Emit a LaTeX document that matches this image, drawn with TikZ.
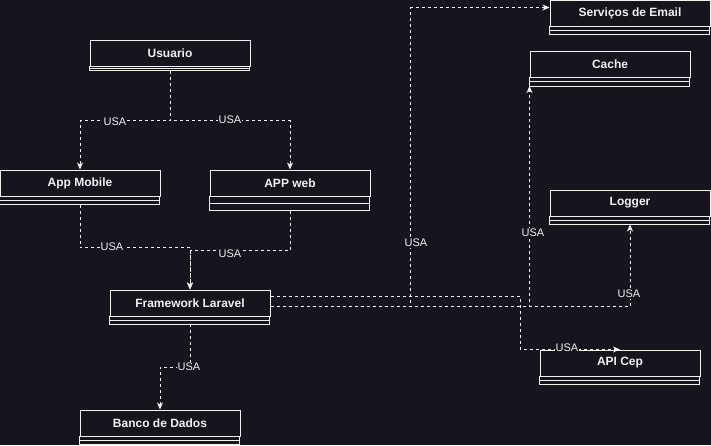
\documentclass[tikz,border=0pt]{standalone}
\usepackage{fontspec}
\setmainfont{Liberation Sans}
\usetikzlibrary{arrows.meta,calc}
\definecolor{bgc}{RGB}{24,20,29}
\definecolor{fgc}{RGB}{240,240,240}
\tikzset{
  clshead/.style={draw=fgc, line width=1pt, minimum width=160pt, minimum height=26pt,
    inner sep=0pt, text=fgc, font=\bfseries\fontsize{12}{14}\selectfont},
  clsline/.style={draw=fgc, line width=1pt},
  edge/.style={draw=fgc, line width=1pt, dash pattern=on 3pt off 3pt,
    -{Stealth[length=7pt,width=6pt,inset=2pt]}},
  lbl/.style={fill=bgc, text=fgc, inner sep=1pt, font=\fontsize{11}{13}\selectfont}
}
\newcommand{\umlcls}[6]{%
  \node[clshead] (#1) at (#2,#3+13) {#6};
  \draw[clsline] (#1.south west) rectangle ++(160,#4);
  \draw[clsline] ($(#1.south west)+(0,#4)$) rectangle ++(160,#5);
  \coordinate (#1-b) at ($(#1.south)+(0,#4+#5)$);
  \coordinate (#1-bl) at ($(#1.south west)+(0,#4+#5)$);
}
\begin{document}
\begin{tikzpicture}[x=1pt,y=-1pt]
\fill[bgc] (0,0) rectangle (711,445);
\useasboundingbox (0,0) rectangle (711,445);

\umlcls{usr}{170}{40}{2}{2.3}{Usuario}
\umlcls{mob}{80}{170}{4}{4}{App Mobile}
\umlcls{web}{290}{170}{7}{7}{APP web}
\umlcls{lar}{190}{290}{3.5}{4}{Framework Laravel}
\umlcls{bd}{160}{410}{4}{4}{Banco de Dados}
\umlcls{eml}{630}{0}{4}{4}{Serviços de Email}
\umlcls{cch}{610}{51}{4}{4.5}{Cache}
\umlcls{log}{630}{190}{4}{4}{Logger}
\umlcls{api}{620}{350}{4}{4}{API Cep}

\coordinate (lar-e1) at ($(lar.north east)+(0,7)$);
\coordinate (lar-e2) at ($(lar.north east)+(0,17)$);

\draw[edge] (usr-b) -- ++(0,50) -| (mob.north);
\draw[edge] (usr-b) -- ++(0,50) -| (web.north);
\draw[edge] (mob-b) -- ++(0,43) -| (lar.north);
\draw[edge] (web-b) -- ++(0,40) -| (lar.north);
\draw[edge] (lar-b) -- ++(0,43) -| (bd.north);
\draw[edge] (lar-e2) -- ++(140,0) |- ($(eml.north west)+(0,8)$);
\draw[edge] (lar-e2) -| (cch-bl);
\draw[edge] (lar-e2) -| (log-b);
\draw[edge] (lar-e1) -- ++(250,0) |- (api.north);

\node[lbl] (l1) at (115,122) {USA};
\node[lbl] (l2) at (230,120) {USA};
\node[lbl] (l3) at (112,247) {USA};
\node[lbl] (l4) at (230,254) {USA};
\node[lbl] (l5) at (189,367) {USA};
\node[lbl] (l6) at (416,243) {USA};
\node[lbl] (l7) at (533,233) {USA};
\node[lbl] (l8) at (629,294) {USA};
\node[lbl] (l9) at (567,348) {USA};
\end{tikzpicture}
\end{document}
